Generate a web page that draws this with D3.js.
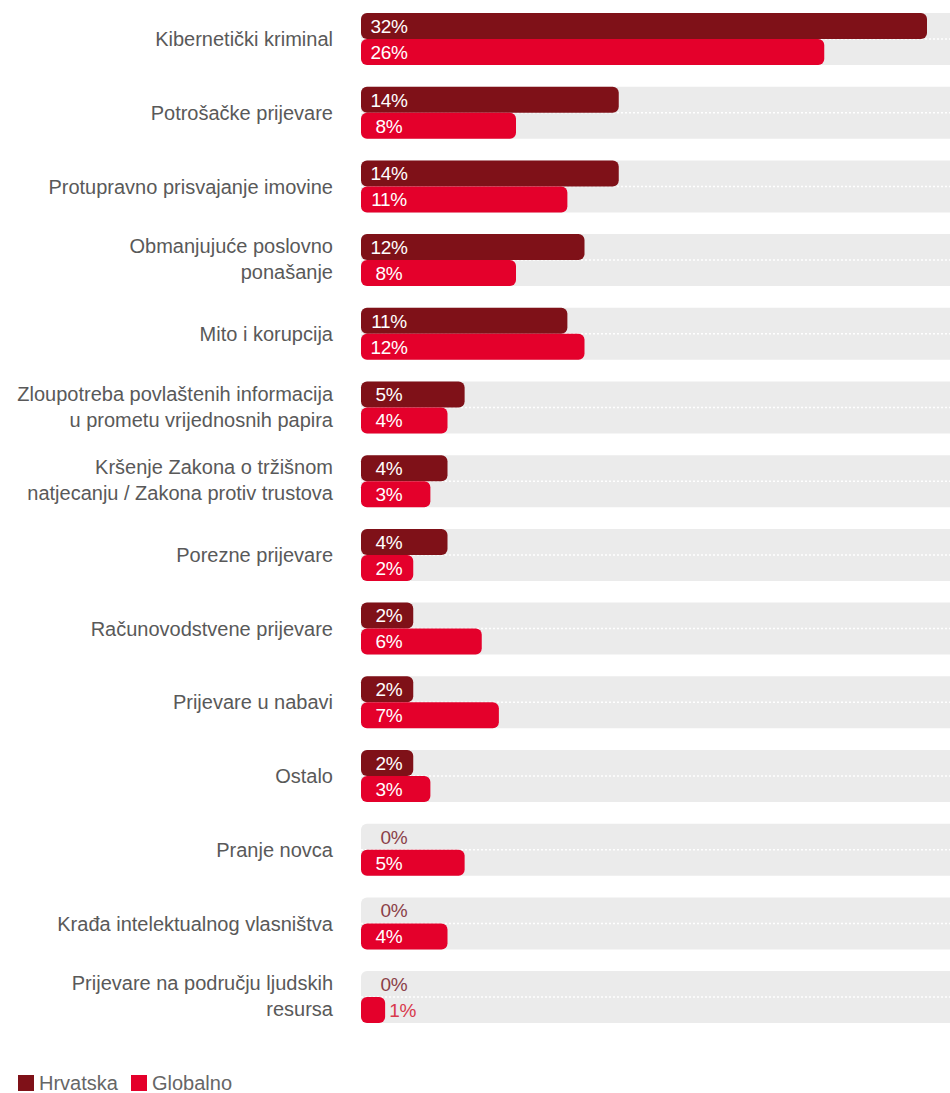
<!DOCTYPE html>
<html><head><meta charset="utf-8">
<script src="https://cdn.jsdelivr.net/npm/d3@7"></script>
<style>body{margin:0;background:#fff}svg{display:block;font-family:"Liberation Sans",Arial,sans-serif}</style>
</head><body>
<svg id="c" width="950" height="1093"></svg>
<script>
const categories = [
  ["Kibernetički kriminal"],
  ["Potrošačke prijevare"],
  ["Protupravno prisvajanje imovine"],
  ["Obmanjujuće poslovno","ponašanje"],
  ["Mito i korupcija"],
  ["Zloupotreba povlaštenih informacija","u prometu vrijednosnih papira"],
  ["Kršenje Zakona o tržišnom","natjecanju / Zakona protiv trustova"],
  ["Porezne prijevare"],
  ["Računovodstvene prijevare"],
  ["Prijevare u nabavi"],
  ["Ostalo"],
  ["Pranje novca"],
  ["Krađa intelektualnog vlasništva"],
  ["Prijevare na području ljudskih","resursa"]
];
const hrvatska  = [32,14,14,12,11,5,4,4,2,2,2,0,0,0];
const globalno  = [26,8,11,8,12,4,3,2,6,7,3,5,4,1];
const seriesNames = ["Hrvatska","Globalno"];
const colors = ["#7f1118","#e4002b"];

const svg = d3.select("#c");
const x0 = 361, W = 950;
const step = 73.7, bandH = 52;
const y = d3.scaleBand().domain(d3.range(categories.length))
  .range([13, 13 + categories.length*step - (step-bandH)])
  .paddingInner((step-bandH)/step).paddingOuter(0);
const x = d3.scaleLinear().domain([0,32]).range([0,548]);
const barW = v => v >= 2 ? 18 + x(v) : (v > 0 ? 7 + x(v) : 0);

const rows = svg.selectAll("g.row").data(categories).join("g").attr("class","row")
  .attr("transform",(d,i)=>`translate(0,${y(i)})`);

rows.append("rect").attr("x",x0).attr("y",0).attr("width",W-x0+10).attr("height",bandH)
  .attr("rx",6).attr("fill","#ebebeb");
rows.append("line").attr("x1",x0).attr("x2",W).attr("y1",bandH/2).attr("y2",bandH/2)
  .attr("stroke","#fff").attr("stroke-width",1.5).attr("stroke-dasharray","2,2");

const bh = bandH/2;
[hrvatska, globalno].forEach((vals,s)=>{
  rows.append("rect").attr("x",x0).attr("y",s*bh).attr("height",bh)
    .attr("width",(d,i)=>barW(vals[i])).attr("rx",6)
    .attr("fill",colors[s]).attr("display",(d,i)=>vals[i]>0?null:"none");
  rows.append("text")
    .attr("x",(d,i)=> vals[i]>=2 ? 389 : vals[i]===0 ? 394 : x0+barW(vals[i])+4)
    .attr("text-anchor",(d,i)=> vals[i]===1 ? "start" : "middle")
    .attr("y",s*bh+bh/2).attr("dy","0.36em")
    .attr("font-size",19).attr("letter-spacing","-0.3")
    .attr("fill",(d,i)=> vals[i]>=2 ? "#fff" : vals[i]===0 ? "#8a4048" : "#d8394c")
    .text((d,i)=>vals[i]+"%");
});

rows.each(function(d){
  const g = d3.select(this);
  const t = g.append("text").attr("text-anchor","end").attr("x",333)
    .attr("font-size",20).attr("fill","#595959");
  if(d.length===1){
    t.append("tspan").attr("x",333).attr("y",bandH/2).attr("dy","0.36em").text(d[0]);
  } else {
    d.forEach((line,k)=>t.append("tspan").attr("x",333).attr("y",k*bh+bh/2-1).attr("dy","0.36em").text(line));
  }
});

const leg = svg.append("g").attr("transform","translate(18,1075)");
const lx = [0,113];
seriesNames.forEach((n,i)=>{
  leg.append("rect").attr("x",lx[i]).attr("y",0).attr("width",16).attr("height",16).attr("fill",colors[i]);
  leg.append("text").attr("x",lx[i]+21).attr("y",8).attr("dy","0.36em").attr("font-size",20).attr("fill","#666").text(n);
});
</script>
</body></html>
